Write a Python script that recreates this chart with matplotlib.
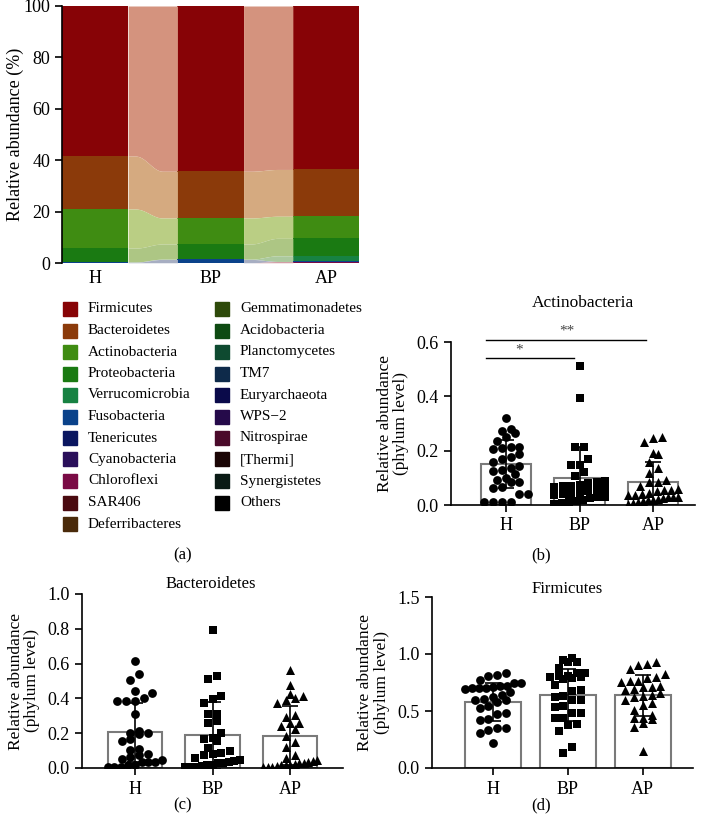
import numpy as np
import matplotlib
matplotlib.use("Agg")
import matplotlib.pyplot as plt
from matplotlib.patches import Rectangle

plt.rcParams['font.family'] = ['Liberation Serif', 'DejaVu Serif']
plt.rcParams['font.size'] = 12

# ---- panel (a): mean relative abundance (%) per group ----
groups = ["H", "BP", "AP"]
phyla = ["Firmicutes", "Bacteroidetes", "Actinobacteria", "Proteobacteria",
         "Verrucomicrobia", "Fusobacteria", "Tenericutes", "Cyanobacteria",
         "Chloroflexi", "SAR406", "Deferribacteres", "Gemmatimonadetes",
         "Acidobacteria", "Planctomycetes", "TM7", "Euryarchaeota", "WPS\u22122",
         "Nitrospirae", "[Thermi]", "Synergistetes", "Others"]
phyla_colors = ["#870306", "#8b3a0a", "#3f8c12", "#1a7a12", "#178242", "#0a428a",
                "#0a1660", "#2a0f5a", "#7a0a45", "#4a0a10", "#4a2a0a", "#2e4a0a",
                "#0e4a12", "#0e4a30", "#0e2a4a", "#0a0a4a", "#250a4a", "#4a0a2a",
                "#1a0505", "#0a1a15", "#000000"]
abund_h = [58.4, 20.6, 15.2, 5.4, 0.1, 0.2, 0, 0, 0, 0, 0,
           0, 0, 0, 0, 0, 0, 0, 0, 0, 0.1]
abund_bp = [64.3, 18.2, 10.1, 5.9, 0.1, 1.3, 0, 0, 0, 0, 0,
            0, 0, 0, 0, 0, 0, 0, 0, 0, 0.1]
abund_ap = [63.6, 18.2, 8.6, 6.8, 2.2, 0.05, 0, 0, 0.45, 0, 0,
            0, 0, 0, 0, 0, 0, 0, 0, 0, 0.1]

# ---- panels (b)-(d): per-sample relative abundance ----
actino_h = [0.322, 0.280, 0.271, 0.264, 0.252, 0.237, 0.215, 0.212, 0.211, 0.205, 0.186,
            0.178, 0.168, 0.16, 0.145, 0.135, 0.13, 0.126, 0.115, 0.10, 0.092, 0.086,
            0.083, 0.067, 0.061, 0.040, 0.040, 0.012, 0.012, 0.012, 0.012]
actino_bp = [0.51, 0.394, 0.212, 0.212, 0.168, 0.147, 0.147, 0.12, 0.105, 0.09, 0.085,
             0.08, 0.075, 0.07, 0.07, 0.065, 0.06, 0.055, 0.05, 0.045, 0.04, 0.04,
             0.035, 0.03, 0.03, 0.025, 0.02, 0.015, 0.01, 0.008, 0.005]
actino_ap = [0.252, 0.245, 0.233, 0.193, 0.187, 0.16, 0.137, 0.118, 0.092, 0.086, 0.086,
             0.07, 0.06, 0.055, 0.055, 0.05, 0.045, 0.04, 0.037, 0.035, 0.03, 0.03,
             0.028, 0.025, 0.022, 0.02, 0.018, 0.015, 0.012, 0.008, 0.005]
actino_mean = [0.152, 0.098, 0.084]
actino_sd = [0.089, 0.114, 0.076]

bacte_h = [0.617, 0.538, 0.506, 0.443, 0.429, 0.40, 0.387, 0.387, 0.387, 0.308, 0.215,
           0.203, 0.199, 0.195, 0.165, 0.155, 0.107, 0.103, 0.08, 0.075, 0.065, 0.05,
           0.046, 0.036, 0.036, 0.033, 0.02, 0.015, 0.008, 0.005, 0.003]
bacte_bp = [0.793, 0.531, 0.511, 0.416, 0.395, 0.375, 0.31, 0.31, 0.27, 0.257, 0.199,
            0.174, 0.165, 0.157, 0.113, 0.1, 0.084, 0.08, 0.075, 0.06, 0.045, 0.04,
            0.035, 0.03, 0.03, 0.02, 0.015, 0.01, 0.008, 0.005, 0.003]
bacte_ap = [0.563, 0.477, 0.423, 0.414, 0.40, 0.39, 0.376, 0.306, 0.295, 0.26, 0.26,
            0.24, 0.222, 0.184, 0.147, 0.119, 0.075, 0.056, 0.045, 0.04, 0.035, 0.03,
            0.03, 0.025, 0.02, 0.02, 0.015, 0.01, 0.008, 0.005, 0.003]
bacte_mean = [0.205, 0.188, 0.186]
bacte_sd = [0.17, 0.193, 0.17]

firmi_h = [0.836, 0.816, 0.807, 0.772, 0.749, 0.743, 0.72, 0.715, 0.71, 0.705, 0.70,
           0.70, 0.695, 0.67, 0.64, 0.62, 0.602, 0.60, 0.596, 0.58, 0.544, 0.529,
           0.48, 0.471, 0.427, 0.421, 0.354, 0.354, 0.33, 0.304, 0.222]
firmi_bp = [0.962, 0.947, 0.933, 0.933, 0.874, 0.836, 0.836, 0.807, 0.807, 0.80, 0.795,
            0.787, 0.778, 0.728, 0.684, 0.673, 0.632, 0.626, 0.60, 0.60, 0.544, 0.538,
            0.485, 0.48, 0.44, 0.436, 0.383, 0.377, 0.325, 0.187, 0.129]
firmi_ap = [0.933, 0.912, 0.904, 0.865, 0.822, 0.801, 0.787, 0.766, 0.766, 0.757, 0.719,
            0.713, 0.708, 0.69, 0.684, 0.655, 0.64, 0.634, 0.62, 0.60, 0.573, 0.553,
            0.509, 0.465, 0.437, 0.436, 0.427, 0.395, 0.357, 0.152]
firmi_mean = [0.579, 0.643, 0.637]
firmi_sd = [0.165, 0.228, 0.183]

W, H = 703, 826
fig = plt.figure(figsize=(W / 100, H / 100), dpi=100)


def px_axes(left, top, right, bottom):
    return fig.add_axes([left / W, 1 - bottom / H, (right - left) / W, (bottom - top) / H])


def faded(color):
    # lighter, slightly warm tint used for the ribbons between bars
    rgb = np.array(matplotlib.colors.to_rgb(color))
    a = np.array([0.36, 0.43, 0.52])
    return tuple(1 - a * (1 - rgb))


# ---------------- panel (a) ----------------
ax = px_axes(62, 6, 359, 263)
bw = 0.573
tables = np.array([abund_h, abund_bp, abund_ap])
# stack with the last phylum at the bottom
tops = np.cumsum(tables[:, ::-1], axis=1)[:, ::-1]
bots = tops - tables
xs = np.arange(len(groups))
for j, name in enumerate(phyla):
    ax.bar(xs, tables[:, j], bottom=bots[:, j], width=bw, color=phyla_colors[j],
           linewidth=0)
    for g in range(len(groups) - 1):
        xg = np.linspace(g + bw / 2, g + 1 - bw / 2, 60)
        t = (xg - xg[0]) / (xg[-1] - xg[0])
        s = 0.5 - 0.5 * np.cos(np.pi * np.clip((t - 0.15) / 0.55, 0, 1))
        lo = bots[g, j] + (bots[g + 1, j] - bots[g, j]) * s
        hi = tops[g, j] + (tops[g + 1, j] - tops[g, j]) * s
        ax.fill_between(xg, lo, hi, color=faded(phyla_colors[j]), linewidth=0)
ax.set_xlim(-bw / 2, 2 + bw / 2)
ax.set_ylim(0, 100)
ax.set_yticks(range(0, 101, 20))
ax.set_xticks(xs)
ax.set_xticklabels(groups)
ax.tick_params(axis='x', length=0, pad=5, labelsize=13)
ax.tick_params(axis='y', length=5, width=1.2, direction='out', labelsize=13)
for sp in ["top", "right", "bottom"]:
    ax.spines[sp].set_visible(False)
ax.spines["left"].set_linewidth(1.2)
ax.set_ylabel("Relative abundance (%)", fontsize=13)
ax.yaxis.set_label_coords(-38 / 297, 0.5)

# legend drawn as patches + labels in two columns
for i, name in enumerate(phyla):
    col, row = divmod(i, 11)
    x0 = [63, 215][col]
    yc = 309 + row * 21.5
    fig.patches.append(Rectangle((x0 / W, 1 - (yc + 7) / H), 14 / W, 14 / H,
                                 transform=fig.transFigure, color=phyla_colors[i]))
    fig.text((x0 + 25) / W, 1 - yc / H, name, va='center', ha='left', fontsize=11)


# ---------------- scatter/bar panels ----------------
def swarm_offsets(ax, xc, vals, diam, max_units):
    # GraphPad-like layout: points binned into rows, each row centred
    vals = np.asarray(vals, dtype=float)
    ypx = ax.transData.transform(np.column_stack([np.full(len(vals), xc), vals]))[:, 1]
    ux = ax.transData.transform([(1, 0)])[0][0] - ax.transData.transform([(0, 0)])[0][0]
    order = np.argsort(vals)
    rows, cur, base = [], [order[0]], ypx[order[0]]
    for i in order[1:]:
        if ypx[i] - base < diam:
            cur.append(i)
        else:
            rows.append(cur)
            cur, base = [i], ypx[i]
    rows.append(cur)
    offs = np.zeros(len(vals))
    for row in rows:
        n = len(row)
        step = min(diam * 1.1, 2 * max_units * ux / max(n - 1, 1))
        for k, i in enumerate(row):
            offs[i] = (k - (n - 1) / 2) * step / ux
    return offs


def dot_panel(box, xlim, width, ylim, yticks, data, means, sds):
    ax = px_axes(*box)
    ax.set_xlim(*xlim)
    ax.set_ylim(*ylim)
    ax.bar(xs, means, width=width, color="white", edgecolor="#7a7a7a", linewidth=1.5,
           zorder=1)
    markers = ["o", "s", "^"]
    sizes = [40, 34, 42]
    for g, vals in enumerate(data):
        off = swarm_offsets(ax, g, vals, 8.0, width * 0.5)
        ax.scatter(g + off, vals, marker=markers[g], s=sizes[g], color="black",
                   linewidths=0, zorder=3)
    ax.errorbar(xs, means, yerr=sds, fmt="none", ecolor="black", elinewidth=1.2,
                capsize=6, capthick=1.2, zorder=4)
    ax.set_yticks(yticks)
    ax.set_yticklabels(["{:.1f}".format(v) for v in yticks])
    ax.set_xticks(xs)
    ax.set_xticklabels(groups)
    ax.tick_params(length=5, width=1.2, direction='out', pad=4, labelsize=13)
    for sp in ["top", "right"]:
        ax.spines[sp].set_visible(False)
    for sp in ["left", "bottom"]:
        ax.spines[sp].set_linewidth(1.2)
    ax.set_ylabel("Relative abundance\n(phylum level)", labelpad=5, linespacing=1.05,
                  fontsize=12.5)
    return ax


axb = dot_panel((451, 342, 695, 505), (-0.75, 2.57), 0.69, (0, 0.6), [0, 0.2, 0.4, 0.6],
                [actino_h, actino_bp, actino_ap], actino_mean, actino_sd)
axb.plot([-0.27, 0.93], [0.54, 0.54], color="black", lw=1.0, clip_on=False)
axb.plot([-0.27, 1.9], [0.607, 0.607], color="black", lw=1.0, clip_on=False)
axb.text(0.18, 0.548, "*", ha="center", va="bottom", fontsize=11, color="#444444")
axb.text(0.82, 0.615, "**", ha="center", va="bottom", fontsize=11, color="#444444")
fig.text(583 / W, 1 - 303 / H, "Actinobacteria", ha="center", va="center", fontsize=12.5)

dot_panel((82, 594, 343, 768), (-0.68, 2.68), 0.70, (0, 1.0),
          [0, 0.2, 0.4, 0.6, 0.8, 1.0],
          [bacte_h, bacte_bp, bacte_ap], bacte_mean, bacte_sd)
fig.text(211 / W, 1 - 584 / H, "Bacteroidetes", ha="center", va="center", fontsize=12)

dot_panel((432, 597, 693, 768), (-0.81, 2.67), 0.74, (0, 1.5), [0, 0.5, 1.0, 1.5],
          [firmi_h, firmi_bp, firmi_ap], firmi_mean, firmi_sd)
fig.text(567 / W, 1 - 589 / H, "Firmicutes", ha="center", va="center", fontsize=12)

for lab, x, y in [("(a)", 183, 555), ("(b)", 541, 555), ("(c)", 183, 805), ("(d)", 541, 805)]:
    fig.text(x / W, 1 - y / H, lab, ha="center", va="center", fontsize=12)

fig.savefig("out.png", dpi=100)
